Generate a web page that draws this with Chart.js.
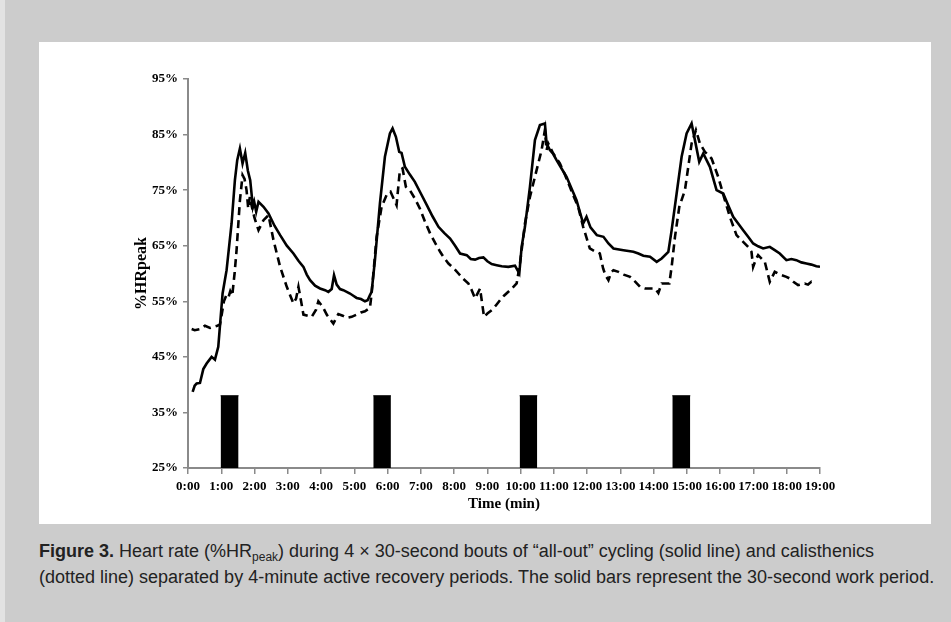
<!DOCTYPE html>
<html>
<head>
<meta charset="utf-8">
<script src="https://cdn.jsdelivr.net/npm/chart.js@4.4.1/dist/chart.umd.min.js"></script>
<style>
  html, body { margin: 0; padding: 0; }
  body { width: 951px; height: 622px; background: #cccccc; position: relative; overflow: hidden; }
  #edge { position: absolute; left: 0; top: 0; width: 5px; height: 622px; background: #e2e2e2; }
  #box { position: absolute; left: 39px; top: 42px; width: 892px; height: 482px; background: #ffffff; }
  #caption {
    position: absolute; left: 39px; top: 538px;
    font-family: "Liberation Sans", Arial, sans-serif;
    font-size: 18px; line-height: 26px; color: #222; white-space: nowrap;
  }
  #caption b { font-weight: bold; }
  #caption sub { font-size: 12px; vertical-align: -4px; line-height: 0; }
</style>
</head>
<body>
<div id="edge"></div>
<div id="box"><canvas id="myChart" width="892" height="482"></canvas></div>
<div id="caption"><b>Figure 3.</b> Heart rate (%HR<sub>peak</sub>) during 4 × 30-second bouts of “all-out” cycling (solid line) and calisthenics<br>(dotted line) separated by 4-minute active recovery periods. The solid bars represent the 30-second work period.</div>
<script>
// time in minutes, heart rate in %HRpeak
var cyclingTime = [0.14, 0.2, 0.26, 0.36, 0.46, 0.56, 0.71, 0.81, 0.91, 0.98, 1.04, 1.1, 1.16, 1.31, 1.41, 1.48, 1.56, 1.64, 1.72, 1.8, 1.87, 1.95, 1.99, 2.05, 2.12, 2.27, 2.42, 2.6, 2.77, 2.97, 3.17, 3.32, 3.47, 3.57, 3.67, 3.82, 3.97, 4.12, 4.22, 4.32, 4.39, 4.47, 4.57, 4.67, 4.77, 4.87, 4.97, 5.07, 5.2, 5.32, 5.4, 5.47, 5.52, 5.62, 5.77, 5.92, 6.07, 6.15, 6.25, 6.35, 6.42, 6.52, 6.67, 6.82, 7.0, 7.18, 7.35, 7.53, 7.7, 7.88, 8.03, 8.18, 8.38, 8.5, 8.63, 8.75, 8.88, 9.0, 9.13, 9.28, 9.43, 9.63, 9.83, 9.96, 10.03, 10.13, 10.28, 10.43, 10.58, 10.73, 10.78, 10.88, 10.98, 11.08, 11.23, 11.38, 11.53, 11.68, 11.88, 11.98, 12.1, 12.29, 12.49, 12.64, 12.79, 13.09, 13.39, 13.54, 13.69, 13.89, 14.09, 14.24, 14.44, 14.54, 14.69, 14.84, 14.99, 15.14, 15.24, 15.37, 15.49, 15.69, 15.89, 16.09, 16.24, 16.39, 16.54, 16.69, 16.84, 16.99, 17.14, 17.29, 17.49, 17.64, 17.79, 17.99, 18.14, 18.29, 18.44, 18.59, 18.74, 18.89, 19.0];
var cyclingHR = [38.7, 39.8, 40.2, 40.3, 42.8, 43.8, 45.0, 44.5, 46.8, 52.0, 56.4, 58.5, 60.6, 69.0, 76.8, 80.4, 82.5, 79.8, 81.7, 78.5, 76.8, 72.0, 72.9, 71.1, 72.9, 72.0, 70.8, 68.6, 66.9, 65.0, 63.6, 62.3, 61.2, 59.8, 58.8, 57.8, 57.3, 57.0, 56.7, 57.2, 59.7, 58.0, 57.2, 57.0, 56.7, 56.4, 56.0, 55.6, 55.4, 55.0, 55.2, 56.1, 56.7, 62.4, 72.6, 81.0, 85.2, 86.1, 84.6, 81.9, 81.7, 79.2, 77.8, 76.5, 74.4, 72.3, 70.3, 68.4, 67.3, 66.3, 65.0, 63.6, 63.3, 62.6, 62.5, 62.8, 62.9, 62.2, 61.7, 61.5, 61.3, 61.2, 61.4, 60.0, 64.8, 68.4, 75.6, 84.0, 86.7, 87.0, 83.4, 82.2, 81.5, 80.4, 78.9, 77.4, 75.3, 73.2, 69.0, 70.2, 68.3, 66.9, 66.6, 65.4, 64.5, 64.2, 63.9, 63.6, 63.2, 63.0, 62.1, 62.7, 63.9, 67.8, 74.4, 81.0, 85.2, 87.0, 84.0, 80.1, 81.6, 79.2, 75.0, 74.4, 72.3, 70.2, 69.0, 67.8, 66.6, 65.4, 64.9, 64.5, 64.8, 64.2, 63.6, 62.4, 62.6, 62.4, 62.0, 61.8, 61.6, 61.3, 61.2];

var caliTime = [0.11, 0.2, 0.36, 0.51, 0.66, 0.88, 0.96, 1.01, 1.08, 1.16, 1.22, 1.27, 1.33, 1.4, 1.46, 1.56, 1.64, 1.7, 1.76, 1.81, 1.86, 1.92, 2.0, 2.12, 2.27, 2.42, 2.57, 2.77, 2.97, 3.17, 3.25, 3.32, 3.4, 3.47, 3.6, 3.72, 3.85, 3.92, 4.05, 4.17, 4.37, 4.52, 4.65, 4.77, 4.92, 5.07, 5.2, 5.32, 5.47, 5.52, 5.67, 5.82, 5.97, 6.09, 6.18, 6.27, 6.37, 6.45, 6.55, 6.67, 6.82, 6.97, 7.12, 7.28, 7.43, 7.58, 7.7, 7.83, 7.98, 8.13, 8.28, 8.43, 8.53, 8.63, 8.78, 8.9, 9.0, 9.13, 9.25, 9.38, 9.5, 9.63, 9.75, 9.88, 9.98, 10.13, 10.28, 10.48, 10.63, 10.73, 10.78, 10.83, 10.98, 11.18, 11.33, 11.48, 11.6, 11.73, 11.88, 12.08, 12.23, 12.38, 12.48, 12.55, 12.64, 12.72, 12.79, 12.94, 13.1, 13.29, 13.45, 13.59, 13.74, 13.9, 14.04, 14.14, 14.24, 14.35, 14.47, 14.54, 14.64, 14.77, 14.94, 15.04, 15.14, 15.27, 15.39, 15.54, 15.74, 15.94, 16.14, 16.29, 16.49, 16.69, 16.84, 16.94, 16.99, 17.07, 17.14, 17.34, 17.49, 17.64, 17.8, 17.99, 18.09, 18.2, 18.34, 18.54, 18.64, 18.74, 18.84];
var caliHR = [50.0, 49.8, 50.0, 50.6, 50.2, 50.6, 50.8, 52.5, 55.0, 56.2, 55.8, 56.8, 56.0, 60.0, 64.2, 73.1, 77.7, 77.0, 75.0, 71.7, 73.8, 72.0, 70.0, 67.8, 69.6, 70.5, 66.0, 61.2, 57.6, 54.6, 55.5, 57.6, 55.0, 52.6, 52.4, 52.2, 53.5, 55.0, 54.0, 52.6, 51.0, 52.7, 52.4, 52.0, 52.2, 52.6, 53.0, 53.2, 53.8, 56.4, 66.6, 72.0, 74.1, 74.7, 73.5, 72.3, 78.6, 78.9, 75.6, 75.0, 73.5, 71.7, 69.4, 67.2, 65.5, 63.9, 62.8, 61.8, 61.0, 60.0, 59.0, 58.2, 57.0, 55.5, 57.3, 52.2, 52.8, 53.4, 54.2, 55.2, 56.0, 56.7, 57.4, 58.2, 61.8, 69.0, 73.8, 78.6, 82.2, 85.8, 82.2, 83.4, 81.6, 79.8, 77.8, 75.6, 73.8, 72.0, 68.4, 64.5, 64.0, 63.6, 60.9, 59.7, 58.8, 60.2, 60.6, 60.3, 59.8, 59.4, 58.5, 57.6, 57.3, 57.3, 57.3, 56.5, 58.2, 58.2, 58.2, 61.2, 66.6, 72.0, 75.0, 79.2, 83.4, 85.8, 83.4, 81.9, 80.7, 77.4, 73.2, 70.2, 66.9, 65.7, 64.8, 63.9, 61.2, 62.5, 63.3, 62.1, 58.5, 60.3, 59.8, 59.4, 59.1, 58.5, 57.9, 58.2, 58.0, 58.5, 58.2];

// 30-second work bouts (start, end in minutes) and bar height
var boutStart = [0.98, 5.57, 9.97, 14.56];
var boutEnd = [1.52, 6.1, 10.5, 15.1];
var barTop = 38;

var yTicks = [25, 35, 45, 55, 65, 75, 85, 95];

function toPoints(xs, ys) {
  return xs.map(function (x, i) { return { x: x, y: ys[i] }; });
}

var datasets = [
  {
    label: "Cycling",
    data: toPoints(cyclingTime, cyclingHR),
    borderColor: "#000000",
    borderWidth: 2.6,
    pointRadius: 0,
    tension: 0,
    fill: false
  },
  {
    label: "Calisthenics",
    data: toPoints(caliTime, caliHR),
    borderColor: "#000000",
    borderWidth: 2.6,
    borderDash: [8, 5],
    pointRadius: 0,
    tension: 0,
    fill: false
  }
];

boutStart.forEach(function (s, i) {
  datasets.push({
    label: "Bout " + (i + 1),
    data: [{ x: s, y: barTop }, { x: boutEnd[i], y: barTop }],
    borderColor: "#000000",
    backgroundColor: "#000000",
    borderWidth: 1,
    pointRadius: 0,
    fill: "start"
  });
});

var axisGray = "#8a8a8a";
var tickFont = { family: "Liberation Serif", size: 13, weight: "bold" };

new Chart("myChart", {
  type: "line",
  data: { datasets: datasets },
  options: {
    responsive: false,
    animation: false,
    layout: { padding: { top: 37, right: 111, left: 0, bottom: 0 } },
    plugins: {
      legend: { display: false },
      tooltip: { enabled: false }
    },
    scales: {
      x: {
        type: "linear",
        min: 0,
        max: 19,
        afterFit: function (scale) { scale.height = 56; },
        border: { display: true, color: axisGray, width: 2 },
        grid: { display: true, drawOnChartArea: false, drawTicks: true, tickLength: 6, color: axisGray, lineWidth: 1.5 },
        ticks: {
          stepSize: 1,
          autoSkip: false,
          maxRotation: 0,
          padding: 5,
          color: "#000000",
          font: tickFont,
          callback: function (v) { return v + ":00"; }
        },
        title: {
          display: true,
          text: "Time (min)",
          color: "#000000",
          font: { family: "Liberation Serif", size: 15, weight: "bold" },
          padding: { top: 0, bottom: 11 }
        }
      },
      y: {
        min: 25,
        max: 95,
        afterFit: function (scale) { scale.width = 149; },
        afterBuildTicks: function (scale) {
          scale.ticks = yTicks.map(function (v) { return { value: v }; });
        },
        border: { display: true, color: axisGray, width: 2 },
        grid: { display: true, drawOnChartArea: false, drawTicks: true, tickLength: 5, color: axisGray, lineWidth: 1.5 },
        ticks: {
          padding: 5,
          color: "#000000",
          font: tickFont,
          callback: function (v) { return v + "%"; }
        },
        title: {
          display: true,
          text: "%HRpeak",
          color: "#000000",
          font: { family: "Liberation Serif", size: 16, weight: "bold" },
          padding: { top: 93, bottom: 0 }
        }
      }
    }
  }
});
</script>
</body>
</html>
